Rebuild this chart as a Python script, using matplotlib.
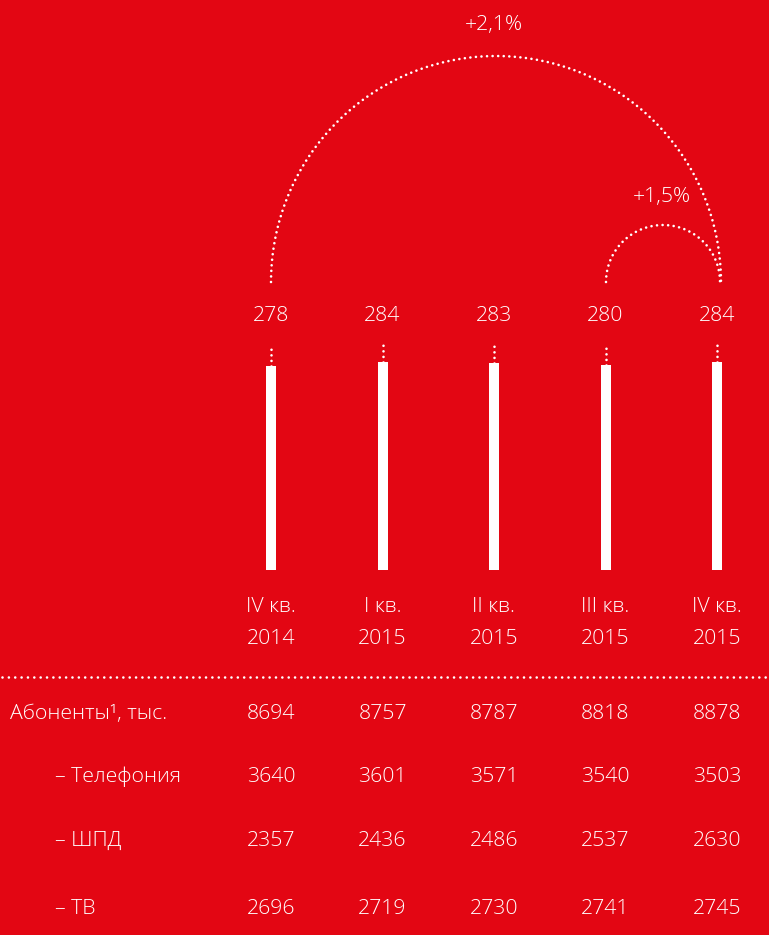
import numpy as np
import matplotlib
matplotlib.use("Agg")
import matplotlib.pyplot as plt

plt.rcParams['font.family'] = ['Open Sans', 'DejaVu Sans']

# ---- data ----
quarters = ["IV кв.", "I кв.", "II кв.", "III кв.", "IV кв."]
years = ["2014", "2015", "2015", "2015", "2015"]
arpu = [278, 284, 283, 280, 284]
growth_labels = ["+2,1%", "+1,5%"]
row_labels = ["Абоненты¹, тыс.", "– Телефония", "– ШПД", "– ТВ"]
subscribers = [8694, 8757, 8787, 8818, 8878]
telephony = [3640, 3601, 3571, 3540, 3503]
broadband = [2357, 2436, 2486, 2537, 2630]
tv = [2696, 2719, 2730, 2741, 2745]
table_rows = [subscribers, telephony, broadband, tv]

RED = '#E30613'
W, H = 769, 935
FS = 15.3
fig = plt.figure(figsize=(W / 100, H / 100), dpi=100, facecolor=RED)
ax = fig.add_axes([0, 0, 1, 1])
ax.set_facecolor(RED)

step = 111.5
x0px = 271
base_px = 570
ppu = 208 / 284.0

ax.set_xlim(-x0px / step, (W - x0px) / step)
ax.set_ylim((base_px - H) / ppu, base_px / ppu)
ax.axis('off')

def py(px):
    return (base_px - px) / ppu

def px_x(px):
    return (px - x0px) / step

xs = np.arange(len(arpu))
ax.bar(xs, arpu, width=10 / step, color='white', zorder=3)

dot_kw = dict(color='white', linewidth=1.9, dash_capstyle='round',
              linestyle=(0, (0.01, 2.1)))

txt_kw = dict(color='white', fontsize=FS, fontweight='light')
dy = 2  # small text offset in pixels

for i, v in enumerate(arpu):
    ax.plot([i, i], [v, py(344)], **dot_kw)
    ax.text(i, py(314 + dy), str(v), ha='center', va='center', **txt_kw)
    ax.text(i, py(605 + dy), quarters[i], ha='center', va='center', **txt_kw)
    ax.text(i, py(637 + dy), years[i], ha='center', va='center', **txt_kw)

def arc(x_left_px, x_right_px, base, top):
    t = np.linspace(0, np.pi, 400)
    cx = (x_left_px + x_right_px) / 2
    r = (x_right_px - x_left_px) / 2
    h = base - top
    xp = cx - r * np.cos(t)
    yp = base - h * np.sin(t)
    ax.plot(px_x(xp), py(yp), **dot_kw)

arc(271, 721, 282, 56)
arc(606, 720, 282, 225)
ax.text(px_x(494), py(23 + dy), growth_labels[0], ha='center', va='center', **txt_kw)
ax.text(px_x(662), py(195 + dy), growth_labels[1], ha='center', va='center', **txt_kw)

ax.plot([px_x(2), px_x(W)], [py(677), py(677)], color='white', linewidth=1.9,
        dash_capstyle='round', linestyle=(0, (0.01, 2.4)))

row_y = [712, 775, 839, 907]
label_x = [10, 55, 55, 55]
for r, (lab, vals) in enumerate(zip(row_labels, table_rows)):
    ax.text(px_x(label_x[r]), py(row_y[r] + dy), lab, ha='left', va='center', **txt_kw)
    for i, v in enumerate(vals):
        ax.text(i, py(row_y[r] + dy), str(v), ha='center', va='center', **txt_kw)

fig.savefig('out.png', dpi=100, facecolor=RED)
